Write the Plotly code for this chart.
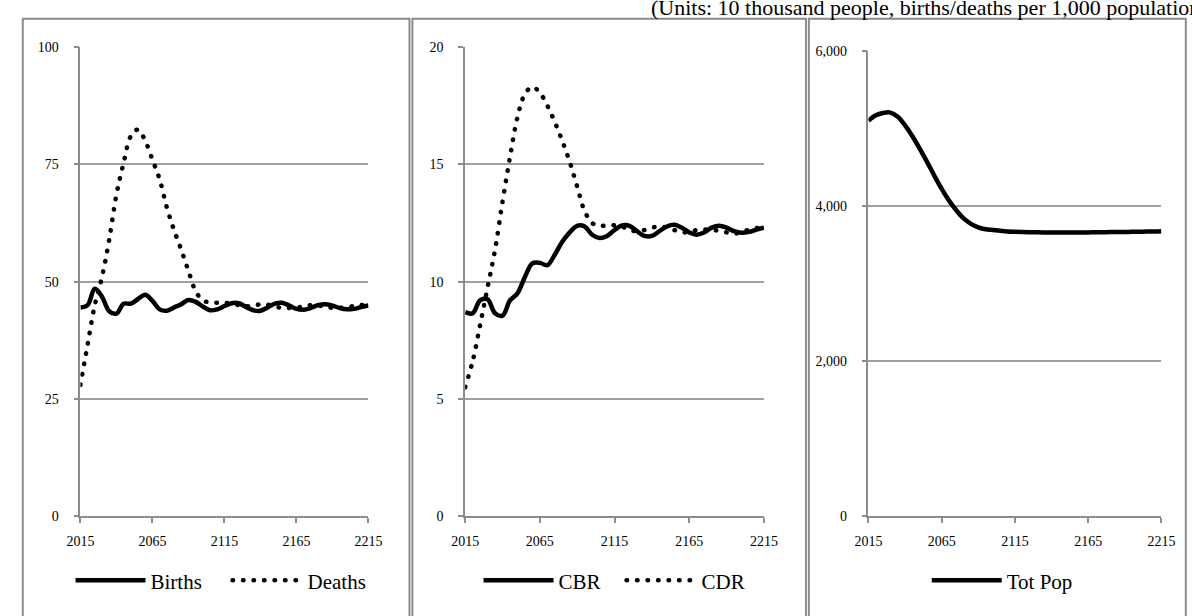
import plotly.graph_objects as go

# ---------------- data ----------------
years = list(range(2015, 2216, 5))

births = [44.5, 45.0, 48.5, 46.8, 43.7, 43.2, 45.3, 45.3, 46.3, 47.2,
          45.9, 44.1, 43.8, 44.5, 45.2, 46.1, 45.7, 44.7, 43.9, 44.1,
          44.8, 45.4, 45.4, 44.6, 43.9, 43.8, 44.5, 45.3, 45.5, 44.9,
          44.2, 44.0, 44.4, 45.0, 45.2, 44.9, 44.4, 44.1, 44.2, 44.6, 44.9]

deaths = [28.0, 36.6, 45.0, 51.0, 59.0, 68.5, 75.3, 81.0, 82.4, 80.0,
          76.0, 71.8, 65.8, 61.0, 56.8, 52.3, 48.0, 46.0, 45.6, 45.5,
          45.5, 45.3, 45.0, 44.8, 44.8, 45.2, 45.1, 44.7, 44.4, 44.4,
          44.5, 44.7, 45.0, 44.9, 44.7, 44.4, 44.4, 44.6, 44.8, 45.0, 45.1]

cbr = [8.7, 8.65, 9.2, 9.25, 8.65, 8.55, 9.2, 9.5, 10.2, 10.78,
       10.8, 10.7, 11.15, 11.7, 12.1, 12.38, 12.35, 12.0, 11.86, 11.95,
       12.2, 12.4, 12.38, 12.15, 11.95, 11.95, 12.15, 12.35, 12.42, 12.3,
       12.1, 12.0, 12.1, 12.3, 12.38, 12.3, 12.15, 12.08, 12.12, 12.22, 12.3]

cdr = [5.5, 6.6, 8.15, 9.75, 11.35, 13.4, 15.3, 17.0, 18.0, 18.3,
       18.05, 17.5, 16.8, 16.0, 15.1, 14.05, 13.0, 12.5, 12.38, 12.4,
       12.4, 12.35, 12.2, 12.15, 12.2, 12.3, 12.35, 12.3, 12.2, 12.1,
       12.12, 12.2, 12.22, 12.2, 12.17, 12.1, 12.05, 12.1, 12.22, 12.28, 12.3]

tot_pop = [5100, 5170, 5200, 5205, 5150, 5040, 4900, 4740, 4570, 4390,
           4220, 4070, 3945, 3840, 3770, 3725, 3700, 3690, 3680, 3672,
           3668, 3665, 3663, 3661, 3660, 3660, 3660, 3660, 3660, 3660,
           3660, 3661, 3662, 3664, 3665, 3666, 3667, 3668, 3670, 3672, 3675]

x_ticks = [2015, 2065, 2115, 2165, 2215]
y1_ticks = [0, 25, 50, 75, 100]
y2_ticks = [0, 5, 10, 15, 20]
y3_ticks = [0, 2000, 4000, 6000]

title_text = "(Units: 10 thousand people, births/deaths per 1,000 population)"

# ---------------- layout helpers ----------------
W, H = 1192, 616
def px(v):
    return v / W
def py(v):
    return 1 - v / H

FONT = "Liberation Serif"
GRID = "#a0a0a0"
AX = "#8c8c8c"
DOT = "0.5px,10px"
LW = 4.5

fig = go.Figure()

def add(x, y, name, dash, xa, ya, leg, lwidth=None):
    kw = {}
    if lwidth is not None:
        kw["legendwidth"] = lwidth
    fig.add_trace(go.Scatter(
        x=x, y=y, name=name, mode="lines",
        line=dict(color="black", width=LW, shape="spline", smoothing=1.0,
                  dash=dash),
        xaxis=xa, yaxis=ya, legend=leg, hoverinfo="skip", **kw))

add(years, births, "Births", "solid", "x", "y", "legend", 72)
add(years, deaths, "Deaths", DOT, "x", "y", "legend")
add(years, cbr, "CBR", "solid", "x2", "y2", "legend2", 58)
add(years, cdr, "CDR", DOT, "x2", "y2", "legend2")
add(years, tot_pop, "Tot Pop", "solid", "x3", "y3", "legend3")

tickfont = dict(family=FONT, size=14, color="black")

def xaxis(dom, anchor):
    return dict(domain=dom, anchor=anchor, range=[2015, 2215],
                tickvals=x_ticks, showgrid=False, zeroline=False,
                showline=True, linecolor=AX, linewidth=1.5,
                ticks="outside", ticklen=5, tickwidth=1.5, tickcolor=AX,
                tickfont=tickfont, ticklabelstandoff=6, fixedrange=True)

def yaxis(dom, anchor, rng, tv, fmt=None):
    d = dict(domain=dom, anchor=anchor, range=rng, tickvals=tv,
             showgrid=True, gridcolor=GRID, gridwidth=1.5, zeroline=False,
             showline=True, linecolor=AX, linewidth=1.5,
             ticks="outside", ticklen=5, tickwidth=1.5, tickcolor=AX,
             tickfont=tickfont, ticklabelstandoff=12, fixedrange=True)
    if fmt:
        d["tickformat"] = fmt
    return d

ydom12 = [py(522), py(41)]
ydom3 = [py(522), py(45)]

legend_common = dict(orientation="h", xanchor="center", yanchor="middle",
                     y=py(588), font=dict(family=FONT, size=21, color="black"),
                     bgcolor="rgba(0,0,0,0)", itemwidth=70, itemclick=False,
                     itemdoubleclick=False)

fig.update_layout(
    width=W, height=H,
    margin=dict(l=0, r=0, t=0, b=0),
    paper_bgcolor="white", plot_bgcolor="white",
    xaxis=xaxis([px(68), px(363)], "y"),
    yaxis=yaxis(ydom12, "x", [0, 100], y1_ticks),
    xaxis2=xaxis([px(462), px(768)], "y2"),
    yaxis2=yaxis(ydom12, "x2", [0, 20], y2_ticks),
    xaxis3=xaxis([px(875), px(1175)], "y3"),
    yaxis3=yaxis(ydom3, "x3", [0, 6000], y3_ticks, ","),
    legend=dict(legend_common, x=px(212)),
    legend2=dict(legend_common, x=px(615)),
    legend3=dict(legend_common, x=px(1012)),
    hovermode=False,
    showlegend=True,
)

# panel frames
for x0, x1 in [(9, 405), (408, 811), (814, 1200)]:
    fig.add_shape(type="rect", xref="paper", yref="paper",
                  x0=px(x0), x1=px(x1), y0=py(640), y1=py(12),
                  line=dict(color=AX, width=2), fillcolor="rgba(0,0,0,0)",
                  layer="below")

fig.add_annotation(text=title_text, xref="paper", yref="paper",
                   x=px(650), y=py(0), xanchor="left", yanchor="middle",
                   showarrow=False,
                   font=dict(family=FONT, size=22, color="black"))

post = """
document.body.style.margin = '0';
document.body.style.overflow = 'hidden';
var gd = document.getElementById('{plot_id}');
function roundDots() {
  gd.querySelectorAll('path').forEach(function (p) {
    var d = p.style.strokeDasharray;
    if (d && d !== 'none' && d !== '0' && d.indexOf('0.5') === 0) {
      p.style.strokeLinecap = 'round';
    }
  });
}
roundDots();
if (gd.on) { gd.on('plotly_afterplot', roundDots); }
setTimeout(roundDots, 50);
"""

fig.write_html("out.html", post_script=post,
               config={"displayModeBar": False, "staticPlot": False})
